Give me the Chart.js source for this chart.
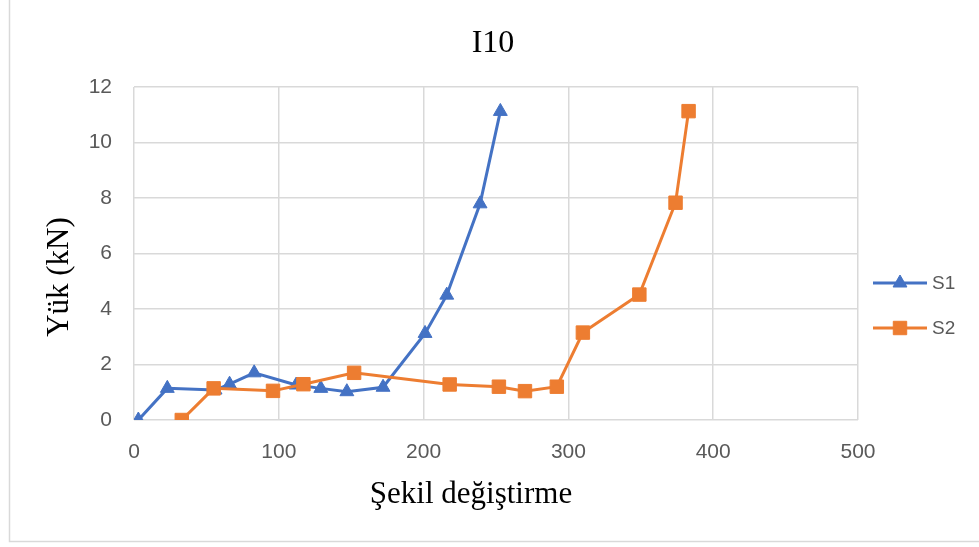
<!DOCTYPE html>
<html>
<head>
<meta charset="utf-8">
<title>I10</title>
<script src="https://cdn.jsdelivr.net/npm/chart.js@4.4.1/dist/chart.umd.min.js"></script>
<style>
  html, body { margin: 0; padding: 0; background: #fff; }
  #wrap { width: 979px; height: 547px; }
</style>
</head>
<body>
<div id="wrap"><canvas id="chart" width="979" height="547"></canvas></div>
<script>
// deformation (x) / load in kN (y) for each specimen
const X_TICKS = [0, 100, 200, 300, 400, 500];
const Y_TICKS = [0, 2, 4, 6, 8, 10, 12];

const s1Def  = [3, 23, 56, 66, 83, 112, 129, 147, 172, 201, 216, 239, 253];
const s1Load = [0, 1.14, 1.08, 1.29, 1.70, 1.26, 1.14, 1.02, 1.18, 3.12, 4.50, 7.79, 11.12];

const s2Def  = [33, 55, 96, 117, 152, 218, 252, 270, 292, 310, 349, 374, 383];
const s2Load = [0, 1.14, 1.05, 1.29, 1.70, 1.28, 1.20, 1.04, 1.20, 3.15, 4.52, 7.83, 11.13];

const BLUE   = "#4472C4";
const ORANGE = "#ED7D31";
const GRID   = "#d9d9d9";
const TICK   = "#595959";

const SERIF = '"Liberation Serif", "Times New Roman", serif';
const SANS  = '"Liberation Sans", Arial, sans-serif';

function toPoints(xs, ys) {
  return xs.map((x, i) => ({ x, y: ys[i] }));
}

/* ── frame, titles and legend ───────────────────────── */
const decor = {
  id: "decor",
  beforeDraw(chart) {
    const { ctx, width } = chart;
    ctx.save();
    ctx.fillStyle = "#fff";
    ctx.fillRect(0, 0, width, chart.height);
    ctx.strokeStyle = GRID;
    ctx.lineWidth = 1.5;
    ctx.beginPath();
    ctx.moveTo(9.5, 0);
    ctx.lineTo(9.5, 541.5);
    ctx.lineTo(width, 541.5);
    ctx.stroke();
    ctx.restore();
  },
  afterDraw(chart) {
    const { ctx } = chart;
    ctx.save();
    ctx.fillStyle = "#000";
    ctx.textAlign = "center";
    ctx.textBaseline = "middle";

    ctx.font = `32px ${SERIF}`;
    ctx.fillText("I10", 493, 44);

    ctx.font = `31px ${SERIF}`;
    ctx.fillText("Şekil değiştirme", 471, 495);

    ctx.save();
    ctx.translate(60, 277);
    ctx.rotate(-Math.PI / 2);
    ctx.fillText("Yük (kN)", 0, 0);
    ctx.restore();

    // legend: line with marker, like the series
    const rows = [283, 328];
    chart.data.datasets.forEach((ds, i) => {
      const y = rows[i];
      ctx.strokeStyle = ds.borderColor;
      ctx.fillStyle = ds.backgroundColor;
      ctx.lineWidth = 3;
      ctx.beginPath();
      ctx.moveTo(873, y);
      ctx.lineTo(927, y);
      ctx.stroke();
      ctx.lineWidth = 1;
      Chart.helpers.drawPoint(ctx, {
        pointStyle: ds.pointStyle,
        radius: ds.pointRadius,
        rotation: 0,
        borderWidth: 1
      }, 900, y);
      ctx.fillStyle = TICK;
      ctx.textAlign = "left";
      ctx.font = `19px ${SANS}`;
      ctx.fillText(ds.label, 932, y + 1);
    });
    ctx.restore();
  }
};

/* ── chart ──────────────────────────────────────────── */
const ctx = document.getElementById("chart").getContext("2d");

new Chart(ctx, {
  type: "line",
  data: {
    datasets: [
      {
        label: "S1",
        data: toPoints(s1Def, s1Load),
        borderColor: BLUE,
        backgroundColor: BLUE,
        borderWidth: 3,
        pointStyle: "triangle",
        pointRadius: 8,
        pointHoverRadius: 8,
        pointBorderWidth: 1,
        tension: 0,
        order: 1
      },
      {
        label: "S2",
        data: toPoints(s2Def, s2Load),
        borderColor: ORANGE,
        backgroundColor: ORANGE,
        borderWidth: 3,
        pointStyle: "rect",
        pointRadius: 9.5,
        pointHoverRadius: 9.5,
        pointBorderWidth: 1,
        tension: 0,
        order: 0
      }
    ]
  },
  options: {
    responsive: false,
    animation: false,
    devicePixelRatio: 1,
    layout: { padding: { left: 0, right: 121, top: 87, bottom: 0 } },
    plugins: {
      legend: { display: false },
      title: { display: false },
      tooltip: { enabled: false }
    },
    scales: {
      x: {
        type: "linear",
        min: X_TICKS[0],
        max: X_TICKS[X_TICKS.length - 1],
        afterBuildTicks: s => { s.ticks = X_TICKS.map(v => ({ value: v })); },
        afterFit: s => { s.height = 127; },
        grid: { color: GRID, lineWidth: 1.5, drawTicks: false },
        border: { display: false },
        ticks: { color: TICK, font: { family: SANS, size: 21 }, padding: 20 }
      },
      y: {
        type: "linear",
        min: Y_TICKS[0],
        max: Y_TICKS[Y_TICKS.length - 1],
        afterBuildTicks: s => { s.ticks = Y_TICKS.map(v => ({ value: v })); },
        afterFit: s => { s.width = 134; },
        grid: { color: GRID, lineWidth: 1.5, drawTicks: false },
        border: { display: false },
        ticks: { color: TICK, font: { family: SANS, size: 21 }, padding: 22 }
      }
    }
  },
  plugins: [decor]
});
</script>
</body>
</html>
